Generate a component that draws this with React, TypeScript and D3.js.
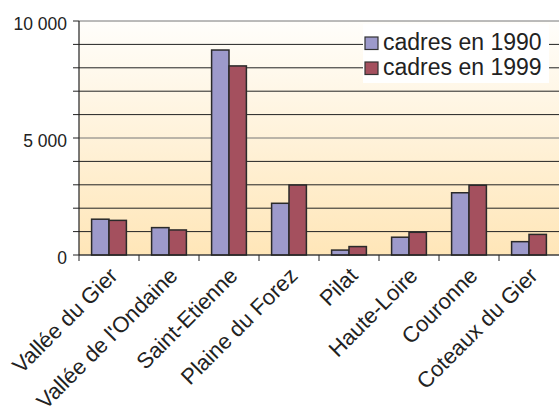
import React from 'react';
import * as d3 from 'd3';

const categories = [
    'Vallée du Gier',
    "Vallée de l'Ondaine",
    'Saint-Etienne',
    'Plaine du Forez',
    'Pilat',
    'Haute-Loire',
    'Couronne',
    'Coteaux du Gier'
];
const seriesNames = ['cadres en 1990', 'cadres en 1999'];
const cadres1990 = [1530, 1170, 8760, 2210, 210, 760, 2660, 570];
const cadres1999 = [1480, 1070, 8080, 2990, 360, 970, 2980, 880];
const yTicks = [0, 5000, 10000];

const colors = ['#9d9acb', '#a4505e'];
const font = '"Liberation Sans", Arial, Helvetica, sans-serif';

const width = 560;
const height = 415;
const margin = { top: 21, right: 1, bottom: 160, left: 79 };

export default function App() {
    const innerW = width - margin.left - margin.right;
    const innerH = height - margin.top - margin.bottom;

    const x0 = d3
        .scaleBand()
        .domain(categories)
        .range([0, innerW])
        .paddingInner(0.42)
        .paddingOuter(0.21);
    const x1 = d3
        .scaleBand()
        .domain(seriesNames)
        .range([0, x0.bandwidth()]);
    const y = d3.scaleLinear().domain([0, 10000]).range([innerH, 0]);

    const fmt = d3.formatLocale({
        decimal: ',',
        thousands: ' ',
        grouping: [3],
        currency: ['', ' €']
    }).format(',d');

    const step = x0.step();
    const gap = (step - x0.bandwidth()) / 2;
    const data = [cadres1990, cadres1999];
    const grid = d3.range(0, 10001, 1000);

    return (
        <svg
            width={width}
            height={height}
            style={{ position: 'absolute', left: 0, top: 0, background: '#fff' }}
            fontFamily={font}
        >
            <defs>
                <linearGradient id="bg" x1="0" y1="0" x2="0" y2="1">
                    <stop offset="0%" stopColor="#fffefb" />
                    <stop offset="100%" stopColor="#ffe6b8" />
                </linearGradient>
            </defs>
            <g transform={`translate(${margin.left},${margin.top})`}>
                <rect width={innerW} height={innerH} fill="url(#bg)" />
                {grid.map((v) => (
                    <line
                        key={v}
                        x1={0}
                        x2={innerW}
                        y1={y(v)}
                        y2={y(v)}
                        stroke={v % 5000 === 0 ? '#777' : '#222'}
                        strokeWidth={1}
                    />
                ))}
                {/* legend box sits over the grid */}
                <g transform={`translate(${284},${3})`}>
                    <rect width={186} height={59} fill="#fff" />
                    {seriesNames.map((s, i) => (
                        <g key={s} transform={`translate(2,${13 + i * 25})`}>
                            <rect
                                width={13}
                                height={12.5}
                                fill={colors[i]}
                                stroke="#333"
                                strokeWidth={1.2}
                            />
                            <text x={18} y={13} fontSize={23} fill="#222">
                                {s}
                            </text>
                        </g>
                    ))}
                </g>
                {categories.map((c, ci) => (
                    <g key={c} transform={`translate(${x0(c)},0)`}>
                        {seriesNames.map((s, si) => (
                            <rect
                                key={s}
                                x={x1(s)}
                                y={y(data[si][ci])}
                                width={x1.bandwidth()}
                                height={innerH - y(data[si][ci])}
                                fill={colors[si]}
                                stroke="#2a2a2a"
                                strokeWidth={1.5}
                            />
                        ))}
                    </g>
                ))}
                {/* y axis */}
                <line x1={0} x2={0} y1={0} y2={innerH} stroke="#222" strokeWidth={1.2} />
                {grid.map((v) => (
                    <line key={v} x1={-6} x2={0} y1={y(v)} y2={y(v)} stroke="#222" />
                ))}
                {yTicks.map((v) => (
                    <text
                        key={v}
                        x={-12}
                        y={y(v) + 8.5}
                        textAnchor="end"
                        fontSize={17.5}
                        fill="#222"
                    >
                        {fmt(v)}
                    </text>
                ))}
                {/* x axis */}
                <line x1={0} x2={innerW} y1={innerH} y2={innerH} stroke="#222" strokeWidth={1.2} />
                {categories.map((c) => (
                    <line
                        key={c}
                        x1={x0(c) - gap}
                        x2={x0(c) - gap}
                        y1={innerH}
                        y2={innerH + 6}
                        stroke="#222"
                    />
                ))}
                {categories.map((c) => {
                    const cx = x0(c) + x0.bandwidth() / 2 + 10;
                    return (
                        <text
                            key={c}
                            transform={`translate(${cx},${innerH + 22}) rotate(-45)`}
                            textAnchor="end"
                            fontSize={22}
                            fill="#222"
                        >
                            {c}
                        </text>
                    );
                })}
            </g>
        </svg>
    );
}
